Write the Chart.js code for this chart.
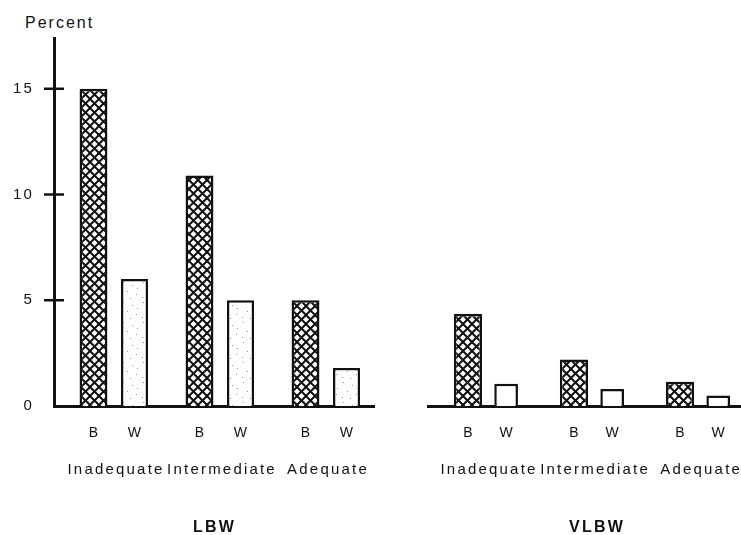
<!DOCTYPE html>
<html>
<head>
<meta charset="utf-8">
<script src="https://cdn.jsdelivr.net/npm/chart.js@4.4.1/dist/chart.umd.min.js"></script>
<style>
  html, body { margin: 0; padding: 0; background: #fff; overflow: hidden; width: 741px; height: 535px; }
  .panel { position: absolute; top: 0; }
  #percent { position: absolute; left: 25px; top: 14px; font: 16px "Liberation Sans", Arial, sans-serif; letter-spacing: 2px; color: #111; }
</style>
</head>
<body>
<div id="percent">Percent</div>
<canvas id="lbwChart" class="panel" style="left:0" width="375" height="535"></canvas>
<canvas id="vlbwChart" class="panel" style="left:427px" width="340" height="535"></canvas>
<script>
// data
const groups = ['Inadequate', 'Intermediate', 'Adequate'];
const lbwBlack = [15.0, 10.9, 5.0];
const lbwWhite = [6.0, 5.0, 1.8];
const vlbwBlack = [4.35, 2.2, 1.15];
const vlbwWhite = [1.05, 0.8, 0.5];
const yTicks = [0, 5, 10, 15];

const ink = '#111';
const font = '"Liberation Sans", Arial, sans-serif';

// crosshatch fill for the B bars
function hatchPattern(ctx) {
    const c = document.createElement('canvas');
    c.width = c.height = 9;
    const g = c.getContext('2d');
    g.fillStyle = '#fff';
    g.fillRect(0, 0, 9, 9);
    g.strokeStyle = ink;
    g.lineWidth = 2;
    for (const o of [-9, 0, 9]) {
        g.beginPath(); g.moveTo(o, 0); g.lineTo(o + 9, 9); g.stroke();
        g.beginPath(); g.moveTo(o, 9); g.lineTo(o + 9, 0); g.stroke();
    }
    return ctx.createPattern(c, 'repeat');
}

// light stipple for the LBW W bars
function stipplePattern(ctx) {
    const c = document.createElement('canvas');
    c.width = c.height = 20;
    const g = c.getContext('2d');
    g.fillStyle = '#fff';
    g.fillRect(0, 0, 20, 20);
    g.fillStyle = '#999';
    [[3, 2], [12, 5], [7, 11], [16, 14], [2, 17], [10, 18], [17, 8]].forEach(p => g.fillRect(p[0], p[1], 1, 1));
    return ctx.createPattern(c, 'repeat');
}

// tick marks crossing the y axis
const crossTicks = {
    id: 'crossTicks',
    afterDraw(chart) {
        const y = chart.scales.y;
        if (!y.options.display) return;
        const ctx = chart.ctx;
        ctx.save();
        ctx.strokeStyle = ink;
        ctx.lineWidth = 2.5;
        yTicks.filter(v => v > 0).forEach(v => {
            const py = y.getPixelForValue(v);
            ctx.beginPath();
            ctx.moveTo(y.right - 10, py);
            ctx.lineTo(y.right + 10, py);
            ctx.stroke();
        });
        ctx.restore();
    }
};

// B / W under each bar
const barLetters = {
    id: 'barLetters',
    afterDatasetsDraw(chart) {
        const ctx = chart.ctx;
        ctx.save();
        ctx.font = '14px ' + font;
        ctx.fillStyle = ink;
        ctx.textAlign = 'center';
        ctx.textBaseline = 'middle';
        chart.data.datasets.forEach((ds, i) => {
            chart.getDatasetMeta(i).data.forEach(bar => {
                ctx.fillText(ds.label, bar.x + 1, chart.chartArea.bottom + 27);
            });
        });
        ctx.restore();
    }
};

const spacing = {
    id: 'spacing',
    beforeDraw(chart) { chart.ctx.letterSpacing = '2.2px'; }
};

function makeChart(id, black, white, opts) {
    const ctx = document.getElementById(id).getContext('2d');
    return new Chart(ctx, {
        type: 'bar',
        data: {
            datasets: [{
                label: 'B',
                data: black.map((v, i) => ({ x: i, y: v })),
                backgroundColor: hatchPattern(ctx),
                borderColor: ink,
                borderWidth: 2.5,
                categoryPercentage: opts.cat,
                barPercentage: opts.barB
            }, {
                label: 'W',
                data: white.map((v, i) => ({ x: i, y: v })),
                backgroundColor: opts.stipple ? stipplePattern(ctx) : '#fff',
                borderColor: ink,
                borderWidth: 2.5,
                categoryPercentage: opts.cat,
                barPercentage: opts.barW
            }]
        },
        options: {
            responsive: false,
            animation: false,
            events: [],
            layout: { padding: { top: 38, left: 0, right: 0, bottom: 0 } },
            plugins: { legend: { display: false }, tooltip: { enabled: false } },
            scales: {
                x: {
                    type: 'linear',
                    min: -0.566,
                    max: opts.xMax,
                    offset: false,
                    grid: { display: false, drawTicks: false },
                    border: { display: true, width: 3, color: ink },
                    afterBuildTicks: s => { s.ticks = groups.map((g, i) => ({ value: i })); },
                    afterFit: s => { s.height = 129; s.paddingLeft = 0; s.paddingRight = 0; },
                    ticks: {
                        autoSkip: false, maxRotation: 0, minRotation: 0,
                        padding: 55,
                        labelOffset: 2,
                        color: ink,
                        font: { family: font, size: 15 },
                        callback: v => groups[v]
                    },
                    title: {
                        display: true,
                        text: opts.title,
                        color: ink,
                        font: { family: font, size: 16, weight: 'bold' },
                        padding: { top: 0, bottom: -2 }
                    }
                },
                y: {
                    display: opts.showY,
                    min: 0,
                    max: 17.4,
                    grid: { display: false, drawTicks: false },
                    border: { display: true, width: 3, color: ink },
                    afterBuildTicks: s => { s.ticks = yTicks.map(v => ({ value: v })); },
                    afterFit: s => { s.width = opts.showY ? 54 : 0; },
                    ticks: {
                        padding: 20,
                        color: ink,
                        font: { family: font, size: 15 }
                    }
                }
            }
        },
        plugins: [spacing, crossTicks, barLetters]
    });
}

makeChart('lbwChart', lbwBlack, lbwWhite, {
    cat: 0.774, barB: 0.68, barW: 0.66, xMax: 2.462, showY: true, stipple: true, title: 'LBW'
});
makeChart('vlbwChart', vlbwBlack, vlbwWhite, {
    cat: 0.72, barB: 0.74, barW: 0.62, xMax: 2.64, showY: false, stipple: false, title: 'VLBW'
});
</script>
</body>
</html>
